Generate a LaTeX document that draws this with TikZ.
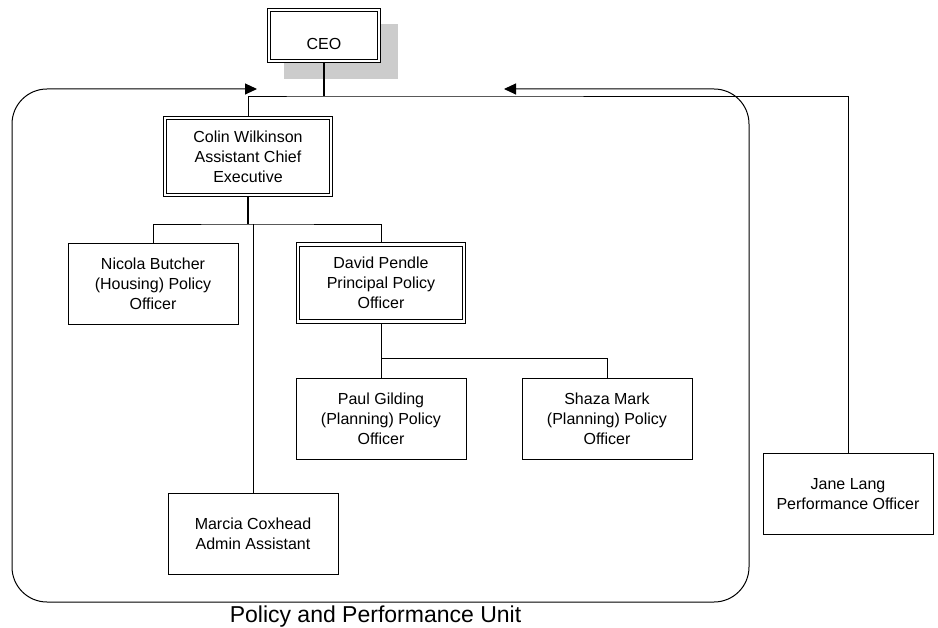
\documentclass[tikz,border=0pt]{standalone}
\usepackage{fontspec}
\setmainfont{Liberation Sans}
\usetikzlibrary{arrows.meta,backgrounds}
\begin{document}
\begin{tikzpicture}[x=1pt,y=-1pt,
  box/.style={draw,line width=0.9pt,fill=white,minimum width=170pt,minimum height=81pt,
    align=center,font=\fontsize{16}{20}\selectfont,inner sep=0pt},
  dbox/.style={box,double,double distance=2.6pt,line width=0.85pt,
    minimum width=166pt,minimum height=77pt},
  conn/.style={line width=0.9pt},
  thickconn/.style={line width=1.6pt},
  unit/.style={line width=1pt,rounded corners=35pt,
    {Triangle[length=12pt,width=11pt]}-{Triangle[length=12pt,width=11pt]}}]
\useasboundingbox (0,0) rectangle (938,628);

% nodes
\node[dbox,minimum width=110pt,minimum height=51pt] (ceo) at (324,35.5) {};
\node[font=\fontsize{16}{20}\selectfont,anchor=base] (ceotext) at (324,49.5) {CEO};
\node[dbox] (colin) at (248,156.5) {Colin Wilkinson\\Assistant Chief\\Executive};
\node[box] (nicola) at (153,283.5) {Nicola Butcher\\(Housing) Policy\\Officer};
\node[dbox] (david) at (381,283) {David Pendle\\Principal Policy\\Officer};
\node[box] (paul) at (381,418.5) {Paul Gilding\\(Planning) Policy\\Officer};
\node[box] (shaza) at (607,418.5) {Shaza Mark\\(Planning) Policy\\Officer};
\node[box] (marcia) at (253,533.5) {Marcia Coxhead\\Admin Assistant};
\node[box] (jane) at (848,494) {Jane Lang\\Performance Officer};
\node[font=\fontsize{23}{27}\selectfont,anchor=base] (title) at (375.5,622) {Policy and Performance Unit};

\coordinate (bus) at (324,96);
\coordinate (b1) at (248,224);
\coordinate (b2) at (381,358);

\begin{scope}[on background layer]
  % shadow of the CEO box
  \fill[black!20] (284,24) rectangle (398,79);
  % connectors
  \draw[thickconn] (ceo.south) -- (bus);
  \draw[conn] (colin.north) |- (bus) -| (jane.north);
  \draw[thickconn] (colin.south) -- (b1);
  \draw[conn] (nicola.north) |- (b1) -| (david.north);
  \draw[conn] (marcia.north) -- (marcia.north |- b1);
  \draw[conn] (david.south) -- (b2);
  \draw[conn] (paul.north) |- (b2) -| (shaza.north);
\end{scope}

% unit boundary with the two arrows on its top edge
\draw[unit] (257,89) -- (12,89) -- (12,602) -- (749,602) -- (749,89) -- (504,89);
\end{tikzpicture}
\end{document}
